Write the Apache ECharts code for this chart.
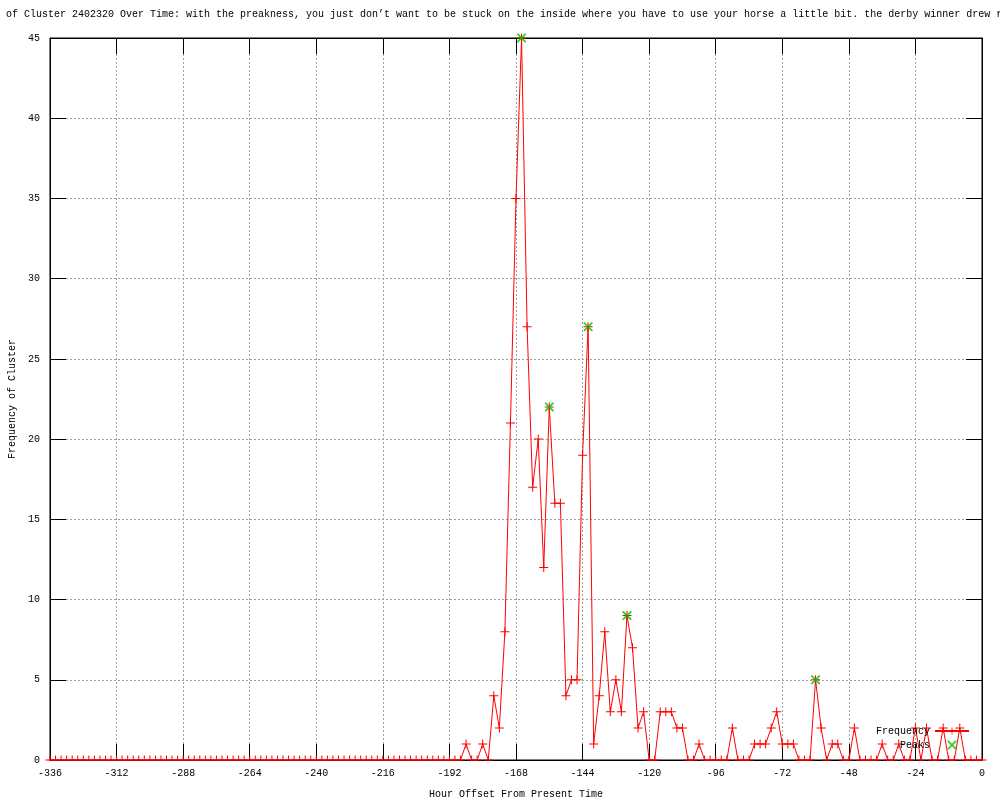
<!DOCTYPE html>
<html>
<head>
<meta charset="utf-8">
<script src="https://cdn.jsdelivr.net/npm/echarts@6/dist/echarts.min.js"></script>
<style>
html,body{margin:0;padding:0;background:#fff;}
#chart{width:1000px;height:800px;}
</style>
</head>
<body>
<div id="chart"></div>
<script>
// ---- data ----
var titleText = "of Cluster 2402320 Over Time: with the preakness, you just don\u2019t want to be stuck on the inside where you have to use your horse a little bit. the derby winner drew re";
var xAxisName = "Hour Offset From Present Time";
var yAxisName = "Frequency of Cluster";
var hourStart = -336;
var hourStep = 2;
// frequency values, one per 2-hour step from -336 to 0
var frequency = [
  0,0,0,0,0,0,0,0,0,0,0,0,0,0,0,0,0,0,0,0,0,0,0,0,   // -336 .. -290
  0,0,0,0,0,0,0,0,0,0,0,0,0,0,0,0,0,0,0,0,0,0,0,0,   // -288 .. -242
  0,0,0,0,0,0,0,0,0,0,0,0,0,0,0,0,0,0,0,0,0,0,0,0,   // -240 .. -194
  0,0,0,1,0,0,1,0,4,2,8,21,                          // -192 .. -170
  35,45,27,17,20,12,22,16,16,4,5,5,                  // -168 .. -146
  19,27,1,4,8,3,5,3,9,7,2,3,                         // -144 .. -122
  0,0,3,3,3,2,2,0,0,1,0,0,                           // -120 .. -98
  0,0,0,2,0,0,0,1,1,1,2,3,                           // -96 .. -74
  1,1,1,0,0,0,5,2,0,1,1,0,                           // -72 .. -50
  0,2,0,0,0,0,1,0,0,1,0,0,                           // -48 .. -26
  2,0,2,0,0,2,0,0,2,0,0,0,                           // -24 .. -2
  0                                                  // 0
];
var peakHours = [-166, -156, -142, -128, -60];
var peakValues = [45, 22, 27, 9, 5];

var freqData = frequency.map(function (v, i) { return [hourStart + i * hourStep, v]; });
var peakData = peakHours.map(function (h, i) { return [h, peakValues[i]]; });

var FONT = "Liberation Mono";
var plusSym = 'path://M0,4h9v1h-9z M4,0h1v9h-1z';
var crossSym = 'path://M0,0L1.3,0L9,7.7L9,9L7.7,9L0,1.3Z M7.7,0L9,0L9,1.3L1.3,9L0,9L0,7.7Z';

var chart = echarts.init(document.getElementById('chart'), null, {renderer: 'canvas'});
var axisLineStyle = {show: true, onZero: false, lineStyle: {color: '#000', width: 1}};
var axisTickStyle = {show: true, inside: true, length: 16, lineStyle: {color: '#000', width: 1}};
chart.setOption({
  animation: false,
  backgroundColor: '#fff',
  title: {
    text: titleText,
    left: 1, top: 4,
    textStyle: {fontFamily: FONT, fontSize: 10, fontWeight: 'normal', color: '#000'}
  },
  grid: {left: 50, right: 18, top: 38, bottom: 40, containLabel: false, outerBoundsMode: 'none',
         show: true, borderColor: '#000', borderWidth: 1, backgroundColor: 'transparent'},
  legend: {
    orient: 'vertical', right: 30, top: 726, align: 'right', padding: 0,
    itemWidth: 34, itemHeight: 9, itemGap: 4,
    textStyle: {fontFamily: FONT, fontSize: 10, color: '#000'},
    data: ['Frequency', 'Peaks']
  },
  graphic: [{
    // mask the parts of the zero-row markers that fall below the plot frame
    type: 'rect', z: 100, silent: true,
    shape: {x: 44, y: 761, width: 944, height: 5},
    style: {fill: '#fff'}
  }],
  xAxis: [{
    type: 'value', min: -336, max: 0, interval: 24, position: 'bottom',
    name: xAxisName, nameLocation: 'middle', nameGap: 29,
    nameTextStyle: {fontFamily: FONT, fontSize: 10, color: '#000'},
    axisLine: axisLineStyle, axisTick: axisTickStyle,
    axisLabel: {fontFamily: FONT, fontSize: 10, color: '#000', margin: 8},
    splitLine: {show: true, lineStyle: {color: '#a0a0a0', type: [2, 2], width: 1}}
  }, {
    type: 'value', min: -336, max: 0, interval: 24, position: 'top',
    axisLine: axisLineStyle, axisTick: axisTickStyle,
    axisLabel: {show: false}, splitLine: {show: false}
  }],
  yAxis: [{
    type: 'value', min: 0, max: 45, interval: 5, position: 'left',
    name: yAxisName, nameLocation: 'middle', nameGap: 32, nameRotate: 90,
    nameTextStyle: {fontFamily: FONT, fontSize: 10, color: '#000'},
    axisLine: axisLineStyle, axisTick: axisTickStyle,
    axisLabel: {fontFamily: FONT, fontSize: 10, color: '#000', margin: 10},
    splitLine: {show: true, lineStyle: {color: '#a0a0a0', type: [2, 2], width: 1}}
  }, {
    type: 'value', min: 0, max: 45, interval: 5, position: 'right',
    axisLine: axisLineStyle, axisTick: axisTickStyle,
    axisLabel: {show: false}, splitLine: {show: false}
  }],
  series: [{
    name: 'Frequency', type: 'line', data: freqData,
    xAxisIndex: 0, yAxisIndex: 0,
    symbol: plusSym, symbolSize: 9, showAllSymbol: true,
    lineStyle: {color: '#ff0000', width: 1},
    itemStyle: {color: '#ff0000'},
    z: 3
  }, {
    name: 'Peaks', type: 'scatter', data: peakData,
    xAxisIndex: 0, yAxisIndex: 0,
    symbol: crossSym, symbolSize: 9,
    itemStyle: {color: '#00c000'},
    z: 4
  }]
});
</script>
</body>
</html>
